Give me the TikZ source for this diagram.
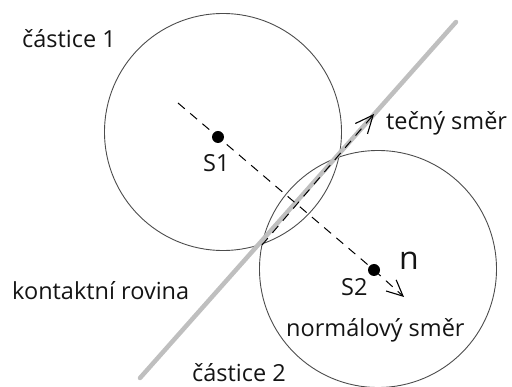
\documentclass[tikz,border=0pt]{standalone}
\usepackage{fontspec}
\setmainfont{Open Sans}
\usetikzlibrary{arrows.meta}
\begin{document}
\begin{tikzpicture}[x=1pt,y=-1pt,
  circ/.style={draw=black!70, line width=0.9pt, circle, minimum size=237pt, inner sep=0pt},
  plane/.style={draw=black!25, line width=4.5pt, line cap=round},
  dashln/.style={dash pattern=on 9pt off 7pt, line width=1pt},
  tipA/.style={-{Straight Barb[length=18pt,width=16pt,line width=1.1pt]}},
  tipB/.style={-{Straight Barb[length=16pt,width=15pt,line width=1.1pt]}},
  dot/.style={circle, fill=black, inner sep=0pt, minimum size=12pt},
  lbl/.style={font=\fontsize{23.5}{28}\selectfont, text=black!92, inner sep=0pt, anchor=base west}]
\useasboundingbox (0,0) rectangle (512,387);
\node[circ] (c1) at (223,132) {};
\node[circ] (c2) at (378,269) {};
\coordinate (pA) at (140,378);
\coordinate (pB) at (456,22);
\draw[plane] (pA) -- (pB);
\node[dot] (s1) at (218,137) {};
\node[dot] (s2) at (374,270) {};
\coordinate (nstart) at (178,103);
\coordinate (ntip) at (404,297);
\coordinate (tstart) at (262,245);
\coordinate (ttip) at (374,114);
\draw[dashln] (nstart) -- (s1.center) -- (s2.center);
\draw[dashln, tipB] (s2.center) -- (ntip);
\draw[dashln, tipA] (tstart) -- (ttip);
\node[lbl] (l1) at (22,48) {částice 1};
\node[lbl] (ls1) at (203,172) {S1};
\node[lbl] (lt) at (386,130) {tečný směr};
\node[lbl, font=\fontsize{32}{36}\selectfont] (ln) at (399,270) {n};
\node[lbl] (ls2) at (341,296) {S2};
\node[lbl] (lnm) at (286,337) {normálový směr};
\node[lbl] (lk) at (12,300) {kontaktní rovina};
\node[lbl] (l2) at (192,382) {částice 2};
\end{tikzpicture}
\end{document}
